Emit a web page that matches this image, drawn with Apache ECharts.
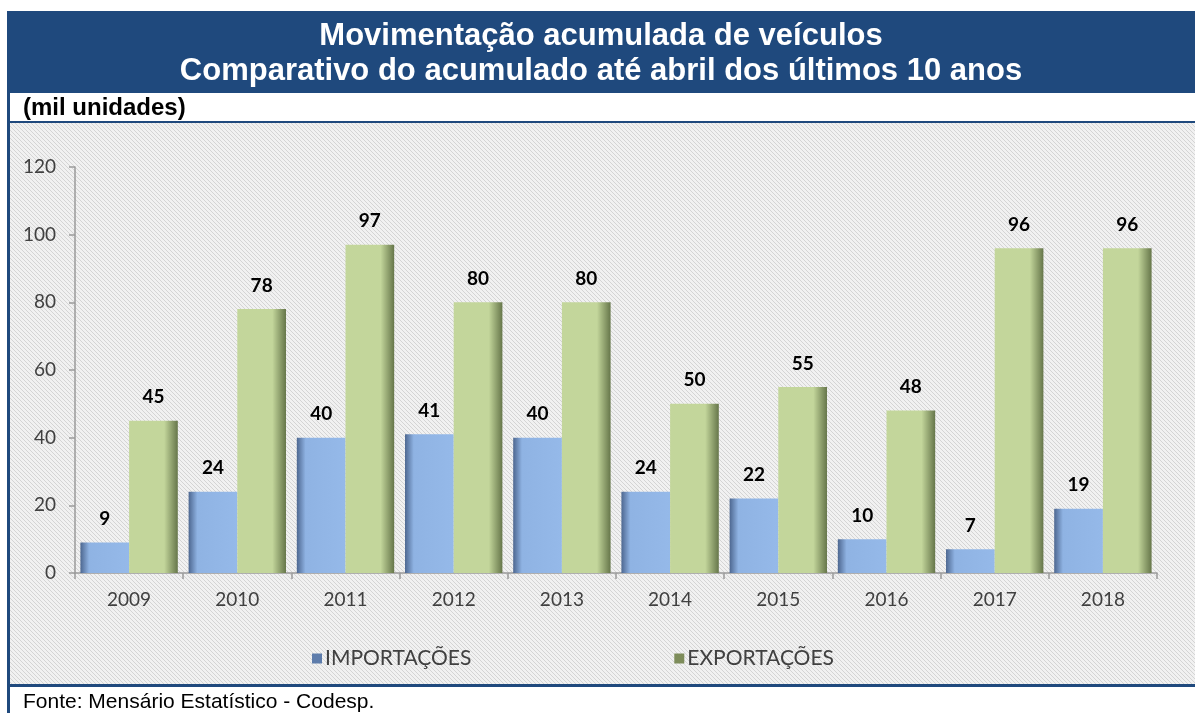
<!DOCTYPE html>
<html lang="pt-BR">
<head>
<meta charset="UTF-8">
<title>Movimentação acumulada de veículos</title>
<style>
  html, body { margin: 0; padding: 0; background: #fff; }
  #chart { width: 1195px; height: 713px; }
</style>
<script src="https://cdn.jsdelivr.net/npm/echarts@6/dist/echarts.min.js"></script>
</head>
<body>
<div id="chart"></div>
<script>
// dados (mil unidades)
const anos = ['2009', '2010', '2011', '2012', '2013', '2014', '2015', '2016', '2017', '2018'];
const importacoes = [9, 24, 40, 41, 40, 24, 22, 10, 7, 19];
const exportacoes = [45, 78, 97, 80, 80, 50, 55, 48, 96, 96];
const yTicks = [0, 20, 40, 60, 80, 100, 120];

// fundo hachurado
const hatch = document.createElement('canvas');
hatch.width = 4; hatch.height = 4;
const hc = hatch.getContext('2d');
hc.fillStyle = '#f1f1f1';
hc.fillRect(0, 0, 4, 4);
hc.strokeStyle = '#d4d4d4';
hc.lineWidth = 1;
hc.beginPath();
hc.moveTo(0, 0); hc.lineTo(4, 4);
hc.moveTo(-1, 3); hc.lineTo(1, 5);
hc.moveTo(3, -1); hc.lineTo(5, 1);
hc.stroke();

const blueFill = new echarts.graphic.LinearGradient(0, 0, 1, 0, [
  { offset: 0, color: '#4d6790' },
  { offset: 0.18, color: '#8fb3e3' },
  { offset: 1, color: '#95b9e9' }
]);
const greenFill = new echarts.graphic.LinearGradient(0, 0, 1, 0, [
  { offset: 0, color: '#c3d69b' },
  { offset: 0.72, color: '#c3d69b' },
  { offset: 1, color: '#66764a' }
]);

const titleFont = 'bold 31px Arial, "Liberation Sans", sans-serif';

const chart = echarts.init(document.getElementById('chart'));
chart.setOption({
  animation: false,
  backgroundColor: '#fff',
  textStyle: { fontFamily: 'Lato, sans-serif' },
  graphic: [
    { type: 'rect', z: -10, shape: { x: 7, y: 11, width: 1188, height: 676 }, style: { fill: '#1f497d' } },
    { type: 'rect', z: -10, shape: { x: 7, y: 11, width: 3, height: 702 }, style: { fill: '#1f497d' } },
    { type: 'rect', z: -9, shape: { x: 10, y: 93, width: 1185, height: 28 }, style: { fill: '#fff' } },
    { type: 'rect', z: -9, shape: { x: 10, y: 123, width: 1185, height: 561 }, style: { fill: { image: hatch, repeat: 'repeat' } } },
    { type: 'text', z: 10, x: 601, y: 36, style: { text: 'Movimentação acumulada de veículos', font: titleFont, fill: '#fff', align: 'center', verticalAlign: 'middle' } },
    { type: 'text', z: 10, x: 601, y: 71, style: { text: 'Comparativo do acumulado até abril dos últimos 10 anos', font: titleFont, fill: '#fff', align: 'center', verticalAlign: 'middle' } },
    { type: 'text', z: 10, x: 23, y: 108, style: { text: '(mil unidades)', font: 'bold 24px Arial, "Liberation Sans", sans-serif', fill: '#000', verticalAlign: 'middle' } },
    { type: 'text', z: 10, x: 23, y: 702, style: { text: 'Fonte: Mensário Estatístico - Codesp.', font: '21px Arial, "Liberation Sans", sans-serif', fill: '#000', verticalAlign: 'middle' } }
  ],
  legend: {
    bottom: 39,
    left: 307,
    itemGap: 203,
    itemWidth: 10,
    itemHeight: 10,
    icon: 'rect',
    textStyle: { color: '#404040', fontSize: 21, fontFamily: 'Lato, sans-serif', padding: [0, 0, 0, -2] },
    data: [
      { name: 'IMPORTAÇÕES', itemStyle: { color: '#5d7cab' } },
      { name: 'EXPORTAÇÕES', itemStyle: { color: '#7d8c5a' } }
    ]
  },
  grid: { left: 75, right: 38, top: 167, bottom: 140, containLabel: false },
  xAxis: {
    type: 'category',
    data: anos,
    axisLine: { lineStyle: { color: '#9a9a9a', width: 1.5 } },
    axisTick: { show: true, length: 6, alignWithLabel: false, lineStyle: { color: '#9a9a9a', width: 1.5 } },
    axisLabel: { color: '#404040', fontSize: 19, margin: 17 }
  },
  yAxis: {
    type: 'value',
    min: 0,
    max: yTicks[yTicks.length - 1],
    interval: yTicks[1] - yTicks[0],
    axisLine: { show: true, lineStyle: { color: '#9a9a9a', width: 1.5 } },
    axisTick: { show: true, length: 6, lineStyle: { color: '#9a9a9a', width: 1.5 } },
    splitLine: { show: false },
    axisLabel: { color: '#404040', fontSize: 19, margin: 19 }
  },
  series: [
    {
      name: 'IMPORTAÇÕES',
      type: 'bar',
      data: importacoes,
      barGap: '0%',
      barCategoryGap: '10%',
      itemStyle: { color: blueFill },
      label: { show: true, position: 'top', distance: 14, color: '#000', fontWeight: 'bold', fontSize: 19 }
    },
    {
      name: 'EXPORTAÇÕES',
      type: 'bar',
      data: exportacoes,
      barGap: '0%',
      barCategoryGap: '10%',
      itemStyle: { color: greenFill },
      label: { show: true, position: 'top', distance: 14, color: '#000', fontWeight: 'bold', fontSize: 19 }
    }
  ]
});
</script>
</body>
</html>
